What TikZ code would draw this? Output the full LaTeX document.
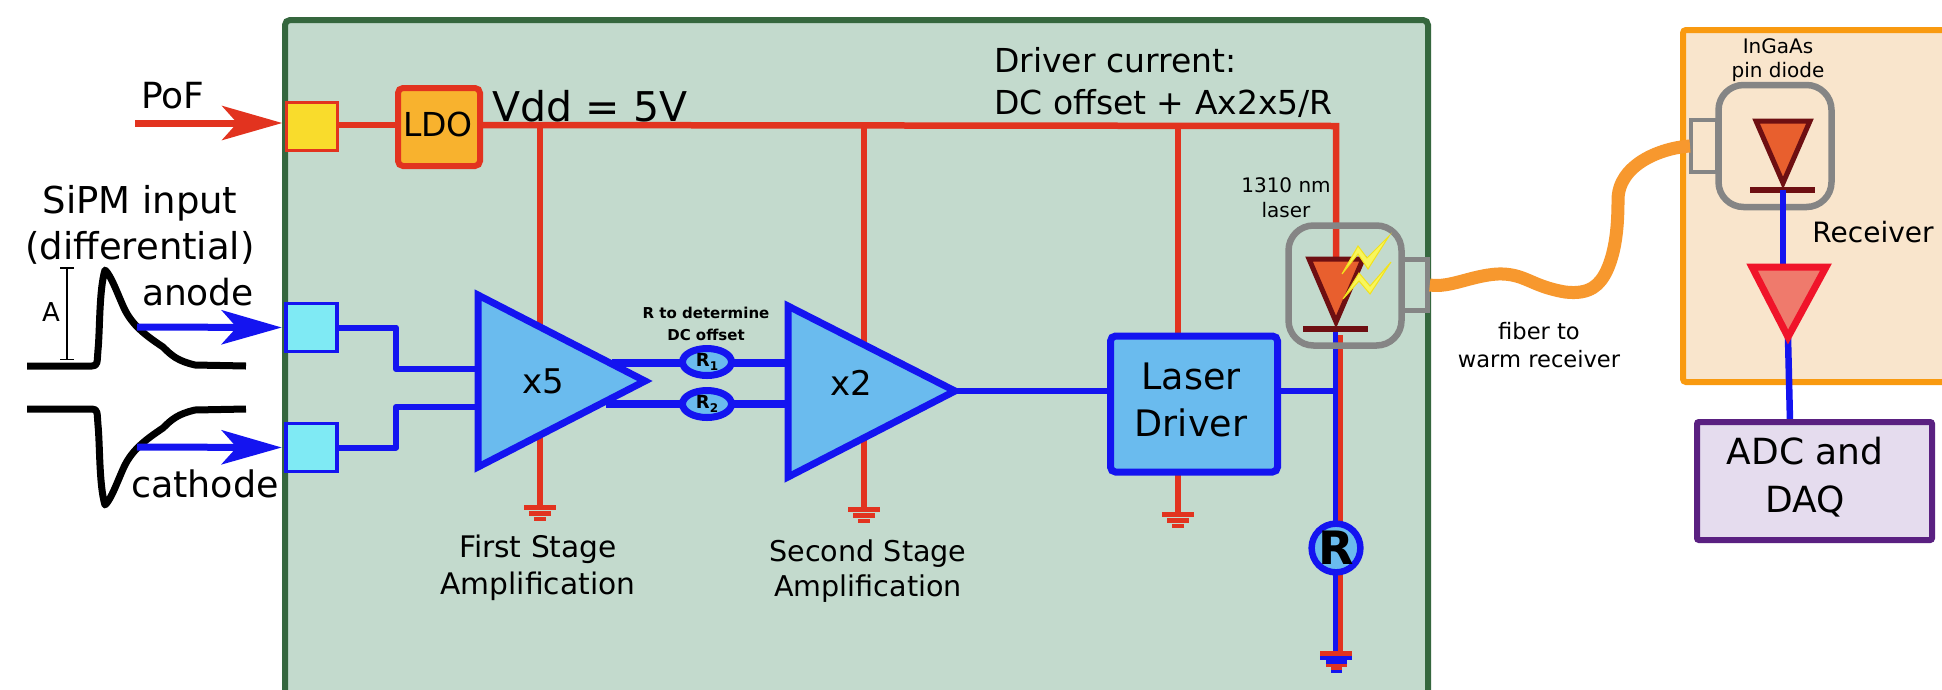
\documentclass[tikz,border=0pt]{standalone}
\usepackage{fontspec}
\setmainfont{DejaVu Sans}
\usetikzlibrary{arrows.meta,shapes.geometric}
\definecolor{boardfill}{HTML}{C3DACD}
\definecolor{boardline}{HTML}{35673E}
\definecolor{wireblue}{HTML}{1414F0}
\definecolor{ampblue}{HTML}{6ABBEE}
\definecolor{padcyan}{HTML}{7FEAF4}
\definecolor{wirered}{HTML}{E2331F}
\definecolor{padyellow}{HTML}{F9DC2C}
\definecolor{ldofill}{HTML}{F8B22E}
\definecolor{cangray}{HTML}{858585}
\definecolor{fiberorange}{HTML}{F7982E}
\definecolor{diodefill}{HTML}{E85F2E}
\definecolor{diodeline}{HTML}{6E0F12}
\definecolor{rxfill}{HTML}{F9E5CC}
\definecolor{rxline}{HTML}{F99A10}
\definecolor{preline}{HTML}{F0142A}
\definecolor{prefill}{HTML}{EF7A6C}
\definecolor{adcfill}{HTML}{E5DCEE}
\definecolor{adcline}{HTML}{5A2081}
\definecolor{flash}{HTML}{F8F65C}
\definecolor{flashline}{HTML}{F2E21C}
\newcommand{\fs}[2]{\fontsize{#1}{#2}\selectfont}
\newcommand{\gndbars}[3]{%
  \fill[#3] (#1-16,#2-2.5) rectangle (#1+16,#2+2.5);
  \fill[#3] (#1-11,#2+3.5) rectangle (#1+11,#2+8.5);
  \fill[#3] (#1-6,#2+9.5) rectangle (#1+6,#2+14);}
\tikzset{
  wb/.style={draw=wireblue,line width=6.5pt},
  wr/.style={draw=wirered,line width=6.5pt},
  pad/.style={draw=wireblue,line width=3.5pt,fill=padcyan,minimum width=51pt,minimum height=48pt,inner sep=0pt},
  amp/.style={draw=wireblue,line width=7pt,fill=ampblue,miter limit=10},
  resistor/.style={ellipse,draw=wireblue,line width=7pt,fill=ampblue,minimum width=49pt,minimum height=27pt,inner sep=0pt},
  can/.style={draw=cangray,line width=6.5pt,rounded corners=25pt,minimum width=113pt,minimum height=120pt,inner sep=0pt},
  stub/.style={draw=cangray,line width=4.5pt,minimum width=25pt,minimum height=51pt,inner sep=0pt},
  diode/.style={draw=diodeline,line width=5pt,fill=diodefill,line join=miter},
  dbar/.style={draw=diodeline,line width=5.5pt},
  pulse/.style={draw=black,line width=7pt,line join=round},
  feed/.style={-{Stealth[length=60pt,width=34pt,inset=15pt]},line width=7pt,shorten >=2.5pt},
  fiber/.style={draw=fiberorange,line width=13pt},
  lbl/.style={align=center,inner sep=0pt,text=black},
  bolt/.style={draw=flashline,line width=1pt,fill=flash},
}
\begin{document}
\begin{tikzpicture}[x=1pt,y=-1pt]
\clip (0,0) rectangle (1942,689);
\fill[white] (0,0) rectangle (1942,689);
% board
\draw[draw=boardline,fill=boardfill,line width=6pt,rounded corners=5pt] (285,20) rectangle (1428,720);
% receiver box
\draw[draw=rxline,fill=rxfill,line width=6pt,rounded corners=3pt] (1683,30) rectangle (1960,382);

% named anchors
\coordinate (vddend) at (1336,126);
\coordinate (tapA) at (540,125);
\coordinate (tapB) at (864,125);
\coordinate (tapC) at (1178,125);
\coordinate (gA) at (540,507);
\coordinate (gB) at (864,509);
\coordinate (gC) at (1178,514);
\coordinate (dtop) at (1336,258);
\coordinate (dbot) at (1335.5,329);
\coordinate (ampAin1) at (478,369);
\coordinate (ampAin2) at (478,407);
\coordinate (ampAo1) at (612,363);
\coordinate (ampAo2) at (606,404);
\coordinate (ampBin1) at (788,363);
\coordinate (ampBin2) at (788,404);
\coordinate (ampBout) at (952,391);
\coordinate (pinfib) at (1690,146);
\coordinate (rxd) at (1783,190);
\coordinate (pretop) at (1783,264);
\coordinate (preapex) at (1788,338);
\coordinate (adctop) at (1790,422);

% red supply wires
\node[draw=wirered,line width=6pt,fill=ldofill,rounded corners=5pt,minimum width=82pt,minimum height=78pt,inner sep=0pt] (ldo) at (439,127) {};
\node[lbl,font=\fs{33}{40}] (ldotext) at (438,124) {LDO};
\node[draw=wirered,line width=3.5pt,fill=padyellow,minimum width=51pt,minimum height=48pt,inner sep=0pt] (padpof) at (312,126.5) {};
\draw[wr] (padpof.east |- tapA) -- (ldo.west |- tapA);
\draw[wr] (ldo.east |- tapA) -- (vddend) -- (dtop);
\draw[wr] (tapA) -- (gA);
\draw[wr] (tapB) -- (gB);
\draw[wr] (tapC) -- (gC);
\draw[wr] (1339.5,335) -- (1339.5,653);
\draw[wb,line width=5.5pt] (dbot) -- (1335.5,653);
\gndbars{540}{507}{wirered}
\gndbars{864}{509}{wirered}
\gndbars{1178}{514}{wirered}
\fill[wirered] (1320,651) rectangle (1352,656);
\fill[wireblue] (1320,656) rectangle (1352,660);
\fill[wireblue] (1326,660) rectangle (1347,664);
\fill[wirered] (1326,664) rectangle (1347,667);
\fill[wirered] (1331,667) rectangle (1342,670);
\fill[wireblue] (1331,670) rectangle (1342,673);

% input pads and wires
\node[pad] (padA) at (311.5,327.5) {};
\node[pad] (padC) at (311.5,447.5) {};
\draw[wb,line width=6pt,line join=round] (padA.east) -- (396,327.5) -- (396,369) -- (ampAin1);
\draw[wb,line width=6pt,line join=round] (padC.east) -- (396,447.5) -- (396,407) -- (ampAin2);

% amp wires with resistors
\draw[wb,line width=7.5pt] (ampAo1) -- (ampBin1);
\draw[wb,line width=7.5pt] (ampAo2) -- (ampBin2);
\node[resistor,font=\fs{18}{20}\bfseries] (r1) at (707,362) {R\raisebox{-4pt}{\fs{12}{13}1}};
\node[resistor,font=\fs{18}{20}\bfseries] (r2) at (707,404) {R\raisebox{-4pt}{\fs{12}{13}2}};

% amplifiers
\draw[amp] (478,295) -- (645,381) -- (478,467) -- cycle;
\node[lbl,font=\fs{34}{40}] (x5) at (543,381) {x5};
\draw[amp] (788,306) -- (955,391) -- (788,477) -- cycle;
\node[lbl,font=\fs{34}{40}] (x2) at (851,383) {x2};

% laser driver
\node[draw=wireblue,line width=7pt,fill=ampblue,rounded corners=5pt,minimum width=167pt,minimum height=136pt,inner sep=0pt] (driver) at (1194,404) {};
\node[lbl,font=\fs{36.5}{47}] (drivertext) at (1191,400) {Laser\\Driver};
\draw[wb] (ampBout) -- (driver.west |- ampBout);
\draw[wb] (driver.east |- ampBout) -- (1335,391);
\node[circle,draw=wireblue,line width=6.5pt,fill=ampblue,minimum size=48pt,inner sep=0pt,font=\fs{46}{50}\bfseries] (rload) at (1336,548) {R};

% laser can
\node[can] (lasercan) at (1345,285.5) {};
\node[stub] (laserstub) at (1415,285) {};
\draw[diode] (1309,259) -- (1363,259) -- (1336,322) -- cycle;
\draw[dbar] (1303,329) -- (1368,329);
\draw[bolt] (1342,274) -- (1358,246) -- (1367,258) -- (1389,236) -- (1368,269) -- (1358,254) -- cycle;
\draw[bolt] (1343,299) -- (1359,273) -- (1370,286) -- (1391,262) -- (1370,294) -- (1359,281) -- cycle;

% receiver contents
\node[can,minimum height=122pt] (pincan) at (1775,146) {};
\node[stub,minimum width=26pt,minimum height=52pt] (pinstub) at (1704,146) {};
\draw[diode] (1756,121) -- (1810,121) -- (1783,183) -- cycle;
\draw[dbar] (1750,190) -- (1815,190);
\draw[wb] (rxd) -- (pretop);
\draw[wb] (preapex) -- (adctop);
\draw[draw=preline,line width=7pt,fill=prefill,miter limit=10] (1752,267) -- (1826,267) -- (1788,337) -- cycle;
\node[draw=adcline,line width=6pt,fill=adcfill,rounded corners=2pt,minimum width=235pt,minimum height=118pt,inner sep=0pt] (adc) at (1814.5,481) {};
\node[lbl,font=\fs{36}{48}] (adctext) at (1805,477) {ADC and\\DAQ};

% fiber
\draw[fiber] (laserstub.east) .. controls (1450,288) and (1470,276) .. (1497,274) .. controls (1525,273) and (1530,286) .. (1565,292) .. controls (1590,295) and (1600,285) .. (1607,270) .. controls (1616,250) and (1618,225) .. (1618,200) .. controls (1618,165) and (1660,148) .. (pinfib);

% input pulses
\draw[pulse] (27,366) -- (92,366) .. controls (98,366) and (97,362) .. (98,350) .. controls (100,330) and (99,290) .. (105,270) .. controls (111,275) and (118,295) .. (124,308) .. controls (132,325) and (145,335) .. (163,347) .. controls (172,356) and (178,361) .. (195,365) -- (246,366);
\draw[pulse] (27,409) -- (92,409) .. controls (98,409) and (97,413) .. (98,425) .. controls (100,445) and (99,485) .. (105,505) .. controls (111,500) and (118,480) .. (124,467) .. controls (132,450) and (145,440) .. (163,428) .. controls (172,419) and (178,414) .. (195,410) -- (246,409);
\coordinate (pulseA) at (137,327);
\coordinate (pulseC) at (137,447);
\coordinate (pofstart) at (135,123);
\draw[feed,wireblue] (pulseA) -- (padA.west);
\draw[feed,wireblue] (pulseC) -- (padC.west);
\draw[feed,wirered] (pofstart) -- (padpof.west |- pofstart);
\coordinate (aTop) at (67,267);
\coordinate (aBot) at (67,360);
\draw[black,line width=1.5pt,{Bar[width=14pt,length=1.5pt]}-{Bar[width=14pt,length=1.5pt]}] (aTop) -- (aBot);

% labels
\node[lbl,font=\fs{36}{40}] (pof) at (173,96) {PoF};
\node[lbl,font=\fs{37}{46}] (sipm) at (140,225) {SiPM input\\(differential)};
\node[lbl,font=\fs{36}{40}] (anode) at (198,292) {anode};
\node[lbl,font=\fs{36.5}{40}] (cathode) at (205,484) {cathode};
\node[lbl,font=\fs{26}{30}] (alabel) at (51,312) {A};
\node[lbl,font=\fs{41}{44}] (vdd) at (590,106) {Vdd = 5V};
\node[lbl,align=left,anchor=north west,font=\fs{33}{42}] (drv) at (994,47) {Driver current:\\DC offset + Ax2x5/R};
\node[lbl,font=\fs{15}{22}\bfseries] (rnote) at (706,324) {R to determine\\DC offset};
\node[lbl,font=\fs{29.7}{37}] (first) at (538,567.5) {First Stage\\Amplification};
\node[lbl,font=\fs{28.6}{35}] (second) at (868,571) {Second Stage\\Amplification};
\node[lbl,font=\fs{20}{25}] (laserlbl) at (1286,198) {1310 nm\\laser};
\node[lbl,font=\fs{22.6}{28}] (fiberlbl) at (1539,345) {fiber to\\warm receiver};
\node[lbl,font=\fs{20}{24}] (ingaas) at (1778,60) {InGaAs\\pin diode};
\node[lbl,font=\fs{28}{32}] (rxlbl) at (1873,232) {Receiver};
\end{tikzpicture}
\end{document}
